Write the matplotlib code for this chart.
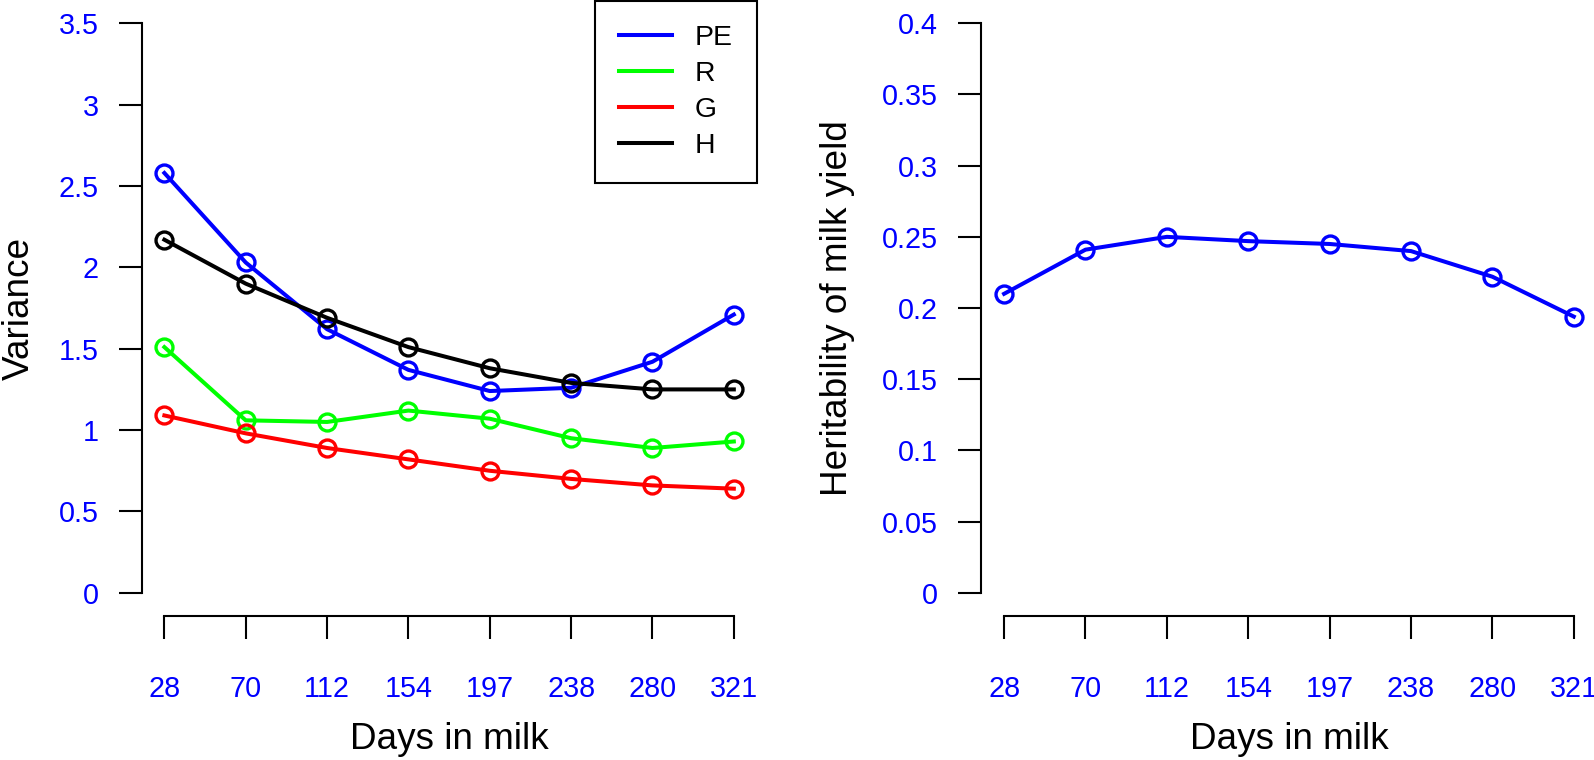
import numpy as np
import matplotlib
matplotlib.use("Agg")
import matplotlib.pyplot as plt

plt.rcParams['font.family'] = ['Liberation Sans', 'DejaVu Sans']

# days in milk (shown as evenly spaced categories)
days = ["28", "70", "112", "154", "197", "238", "280", "321"]

# variance components
pe = [2.58, 2.03, 1.62, 1.37, 1.24, 1.26, 1.42, 1.71]
res = [1.51, 1.06, 1.05, 1.12, 1.07, 0.95, 0.89, 0.93]
gen = [1.09, 0.98, 0.89, 0.82, 0.75, 0.70, 0.66, 0.64]
het = [2.17, 1.90, 1.69, 1.51, 1.38, 1.29, 1.25, 1.25]

# heritability
h2 = [0.210, 0.241, 0.250, 0.247, 0.245, 0.240, 0.222, 0.194]

var_ticks = [0, 0.5, 1, 1.5, 2, 2.5, 3, 3.5]
var_labels = ["0", "0.5", "1", "1.5", "2", "2.5", "3", "3.5"]
h2_ticks = [0, 0.05, 0.1, 0.15, 0.2, 0.25, 0.3, 0.35, 0.4]
h2_labels = ["0", "0.05", "0.1", "0.15", "0.2", "0.25", "0.3", "0.35", "0.4"]

W, H = 1594, 760
fig = plt.figure(figsize=(W / 100, H / 100), dpi=100)

ax1 = fig.add_axes([141.6 / W, (H - 615.6) / H, 615.0 / W, 615.1 / H])
ax2 = fig.add_axes([981.3 / W, (H - 615.6) / H, 615.3 / W, 615.1 / H])

x = np.arange(len(days))
lw = 2.9
ms = 12.2
mew = 2.4


def style(ax, yticks, ylabels, ymax):
    n = len(days)
    ax.set_xlim(-0.04 * (n - 1), (n - 1) * 1.04)
    ax.set_ylim(-0.04 * ymax, ymax * 1.04)
    for s in ["top", "right"]:
        ax.spines[s].set_visible(False)
    ax.spines["left"].set_bounds(0, ymax)
    ax.spines["bottom"].set_bounds(0, n - 1)
    for s in ["left", "bottom"]:
        ax.spines[s].set_linewidth(1.5)
    ax.set_xticks(x)
    ax.set_xticklabels(days)
    ax.set_yticks(yticks)
    ax.set_yticklabels(ylabels)
    ax.tick_params(direction="out", length=16.6, width=1.5,
                   labelsize=20.7, labelcolor="#0000FF")
    ax.tick_params(axis="x", pad=26)
    ax.tick_params(axis="y", pad=14.5)
    ax.set_xlabel("Days in milk", fontsize=26.6, va="baseline")
    ax.xaxis.set_label_coords(0.5, -0.2169)


ax1.plot(x, pe, color="#0000FF", lw=lw, marker="o", ms=ms, mfc="none", mew=mew, label="PE")
ax1.plot(x, res, color="#00FF00", lw=lw, marker="o", ms=ms, mfc="none", mew=mew, label="R")
ax1.plot(x, gen, color="#FF0000", lw=lw, marker="o", ms=ms, mfc="none", mew=mew, label="G")
ax1.plot(x, het, color="#000000", lw=lw, marker="o", ms=ms, mfc="none", mew=mew, label="H")
style(ax1, var_ticks, var_labels, 3.5)
ax1.set_ylabel("Variance", fontsize=26.6, va="baseline")
ax1.yaxis.set_label_coords((28.5 - 141.6) / 615.0, 0.5)

leg = ax1.legend(loc="upper right", borderaxespad=0, fontsize=20.4,
                 handlelength=1.85, handletextpad=0.8, borderpad=0.86,
                 labelspacing=0.35, fancybox=False, framealpha=1,
                 edgecolor="black")
leg.get_frame().set_linewidth(1.5)
for line in leg.get_lines():
    line.set_marker("")
    line.set_linewidth(lw)

ax2.plot(x, h2, color="#0000FF", lw=lw, marker="o", ms=ms, mfc="none", mew=mew)
style(ax2, h2_ticks, h2_labels, 0.4)
ax2.set_ylabel("Heritability of milk yield", fontsize=26.6, va="baseline")
ax2.yaxis.set_label_coords((846.7 - 981.3) / 615.3, 0.5)

fig.savefig("out.png", dpi=100)
